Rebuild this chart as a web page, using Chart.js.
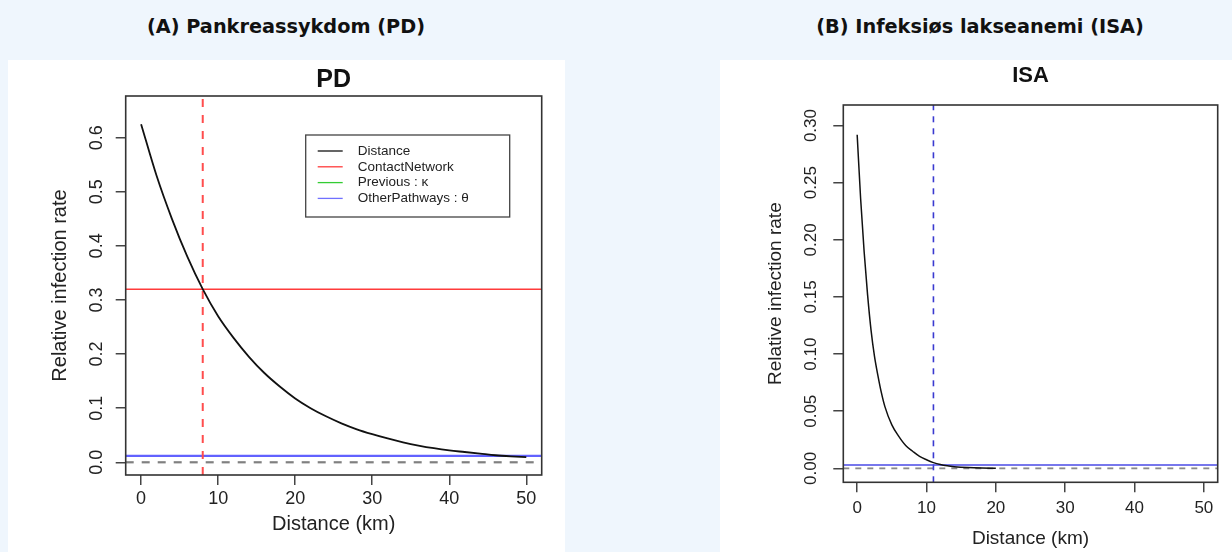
<!DOCTYPE html>
<html><head><meta charset="utf-8">
<script src="https://cdn.jsdelivr.net/npm/chart.js@4/dist/chart.umd.min.js"></script>
<style>
body{margin:0;width:1232px;height:552px;background:#eff6fd;position:relative;overflow:hidden;font-family:'DejaVu Sans',sans-serif}
.hdr{position:absolute;top:12px;font-weight:700;font-size:19.3px;color:#111;transform:translateX(-50%);white-space:nowrap;line-height:30px}
.panel{position:absolute;background:#fff}
canvas{display:block}
</style></head><body>
<div class="hdr" style="left:286px">(A) Pankreassykdom (PD)</div>
<div class="hdr" style="left:980px">(B) Infeksiøs lakseanemi (ISA)</div>
<div class="panel" style="left:8px;top:60px;width:557px;height:492px"><canvas id="pd" width="557" height="492"></canvas></div>
<div class="panel" style="left:720px;top:60px;width:512px;height:492px"><canvas id="isa" width="512" height="492"></canvas></div>
<script>
// ---- data ----
const xTicks = [0, 10, 20, 30, 40, 50];
const pdYTicks = [0.0, 0.1, 0.2, 0.3, 0.4, 0.5, 0.6];
const isaYTicks = [0.00, 0.05, 0.10, 0.15, 0.20, 0.25, 0.30];

const pdDistance = [0,2,4,6,8,10,12,14,16,18,20,22,24,26,28,30,32,34,36,38,40,42,44,46,48,50];
const pdRate = [0.625,0.53,0.45,0.38,0.32,0.27,0.23,0.195,0.165,0.14,0.118,0.10,0.085,0.072,0.061,0.052,0.044,0.037,0.031,0.026,0.022,0.019,0.016,0.013,0.011,0.0095];
const pdContactNetwork = 0.32;
const pdOtherPathways = 0.012;
const pdCutoff = 8;

const isaDistance = [0,0.5,1,1.5,2,2.5,3,3.5,4,5,6,7,8,9,10,11,12,13,14,16,18,20];
const isaRate = [0.292,0.236,0.190,0.152,0.121,0.098,0.081,0.066,0.054,0.038,0.028,0.020,0.015,0.0105,0.0075,0.005,0.0033,0.0022,0.0015,0.0007,0.0003,0.0001];
const isaOtherPathways = 0.003;
const isaCutoff = 11;

const legendLabels = ['Distance', 'ContactNetwork', 'Previous : \u03BA', 'OtherPathways : \u03B8'];
const legendColors = ['#111111', '#ff3b3b', '#33cc33', '#7070ff'];

// ---- helpers ----
const FONT = "'Liberation Sans', Arial, sans-serif";
const pts = (xs, ys) => xs.map((x, i) => ({x, y: ys[i]}));

const boxPlugin = {
  id: 'rbox',
  afterDatasetsDraw(chart) {
    const a = chart.chartArea, ctx = chart.ctx;
    ctx.save();
    ctx.strokeStyle = '#333';
    ctx.lineWidth = 1.6;
    ctx.strokeRect(a.left, a.top, a.right - a.left, a.bottom - a.top);
    ctx.restore();
  }
};

const rLegendPlugin = {
  id: 'rlegend',
  afterDraw(chart, args, opts) {
    if (!opts || !opts.show) return;
    const a = chart.chartArea, ctx = chart.ctx;
    const left = a.right - 236, top = a.top + 39, w = 204, h = 82;
    ctx.save();
    ctx.fillStyle = '#fff';
    ctx.fillRect(left, top, w, h);
    ctx.strokeStyle = '#444';
    ctx.lineWidth = 1.3;
    ctx.strokeRect(left, top, w, h);
    ctx.font = '13.5px ' + FONT;
    ctx.textBaseline = 'middle';
    legendLabels.forEach((lab, i) => {
      const y = top + 16 + i * 15.8;
      ctx.strokeStyle = legendColors[i];
      ctx.lineWidth = 1.3;
      ctx.beginPath(); ctx.moveTo(left + 12, y); ctx.lineTo(left + 37, y); ctx.stroke();
      ctx.fillStyle = '#222';
      ctx.fillText(lab, left + 52, y);
    });
    ctx.restore();
  }
};

function makeChart(id, o) {
  const yTicks = o.yTicks;
  return new Chart(document.getElementById(id), {
    type: 'line',
    data: { datasets: o.datasets },
    options: {
      responsive: false, animation: false,
      layout: { padding: { left: 0, right: o.padRight, top: 0, bottom: 0 } },
      elements: { point: { radius: 0 } },
      plugins: {
        legend: { display: false }, tooltip: { enabled: false },
        title: { display: true, text: o.title, fullSize: false, color: '#111',
          font: { family: FONT, size: o.titleSize, weight: 'bold' },
          padding: o.titlePad },
        rlegend: { show: !!o.legend }
      },
      scales: {
        x: {
          type: 'linear', min: -2, max: 52,
          afterBuildTicks: s => { s.ticks = xTicks.map(v => ({value: v})); },
          afterFit: s => { s.height = o.xAxisHeight; },
          grid: { drawOnChartArea: false, drawTicks: true, tickLength: 10, color: '#444', lineWidth: 1.5 },
          border: { display: false },
          ticks: { font: { family: FONT, size: o.tickSize }, color: '#222', padding: o.xTickPad, maxRotation: 0, callback: v => String(v) },
          title: { display: true, text: 'Distance (km)', color: '#222', font: { family: FONT, size: o.axisTitleSize }, padding: { top: 0, bottom: o.xTitlePad } }
        },
        y: {
          type: 'linear', min: o.yMin, max: o.yMax,
          afterBuildTicks: s => { s.ticks = yTicks.map(v => ({value: v})); },
          afterFit: s => { s.width = o.yAxisWidth; },
          grid: { drawOnChartArea: false, drawTicks: true, tickLength: 10, color: '#444', lineWidth: 1.5 },
          border: { display: false },
          ticks: { font: { family: FONT, size: o.tickSize }, color: '#222', padding: o.yTickPad, minRotation: 90, maxRotation: 90, crossAlign: 'center', callback: v => v.toFixed(o.decimals) },
          title: { display: true, text: 'Relative infection rate', color: '#222', font: { family: FONT, size: o.axisTitleSize }, padding: { top: o.yTitlePad, bottom: 0 } }
        }
      }
    },
    plugins: [boxPlugin, rLegendPlugin]
  });
}

// ---- PD ----
const pdYMin = -0.0235, pdYMax = 0.677;
makeChart('pd', {
  title: 'PD', titleSize: 25, titlePad: { top: 5, bottom: 1 },
  legend: true, padRight: 23.3,
  yMin: pdYMin, yMax: pdYMax, yTicks: pdYTicks, decimals: 1,
  xAxisHeight: 77, yAxisWidth: 117.7,
  tickSize: 18, axisTitleSize: 20, xTickPad: 3, xTitlePad: 16, yTickPad: 6, yTitlePad: 40,
  datasets: [
    { label: 'Distance', data: pts(pdDistance, pdRate), borderColor: '#111', borderWidth: 1.8, cubicInterpolationMode: 'monotone' },
    { label: 'ContactNetwork', data: [{x: -2, y: pdContactNetwork}, {x: 52, y: pdContactNetwork}], borderColor: '#ff3b3b', borderWidth: 1.5 },
    { label: 'cutoff', data: [{x: pdCutoff, y: pdYMin}, {x: pdCutoff, y: pdYMax}], borderColor: '#ff4d4d', borderWidth: 2, borderDash: [8, 8] },
    { label: 'Previous : \u03BA', data: [], borderColor: '#33cc33', borderWidth: 1.5 },
    { label: 'OtherPathways : \u03B8', data: [{x: -2, y: pdOtherPathways}, {x: 52, y: pdOtherPathways}], borderColor: 'rgba(70,70,255,0.85)', borderWidth: 2.2 },
    { label: 'zero', data: [{x: -2, y: 0}, {x: 52, y: 0}], borderColor: '#808080', borderWidth: 2.2, borderDash: [8, 8] }
  ]
});

// ---- ISA ----
const isaYMin = -0.0122, isaYMax = 0.318;
makeChart('isa', {
  title: 'ISA', titleSize: 22, titlePad: { top: 3, bottom: 15.6 },
  legend: false, padRight: 14.3,
  yMin: isaYMin, yMax: isaYMax, yTicks: isaYTicks, decimals: 2,
  xAxisHeight: 69.7, yAxisWidth: 123.3,
  tickSize: 17, axisTitleSize: 19, xTickPad: 6, xTitlePad: 2, yTickPad: 5, yTitlePad: 44,
  datasets: [
    { label: 'Distance', data: pts(isaDistance, isaRate), borderColor: '#111', borderWidth: 1.5, cubicInterpolationMode: 'monotone' },
    { label: 'OtherPathways', data: [{x: -2, y: isaOtherPathways}, {x: 52, y: isaOtherPathways}], borderColor: '#4a4ae6', borderWidth: 1.6 },
    { label: 'cutoff', data: [{x: isaCutoff, y: isaYMin}, {x: isaCutoff, y: isaYMax}], borderColor: '#3a3ad0', borderWidth: 1.6, borderDash: [6, 6] },
    { label: 'zero', data: [{x: -2, y: 0}, {x: 52, y: 0}], borderColor: '#8a8a8a', borderWidth: 1.8, borderDash: [6, 6] }
  ]
});
</script>
</body></html>
